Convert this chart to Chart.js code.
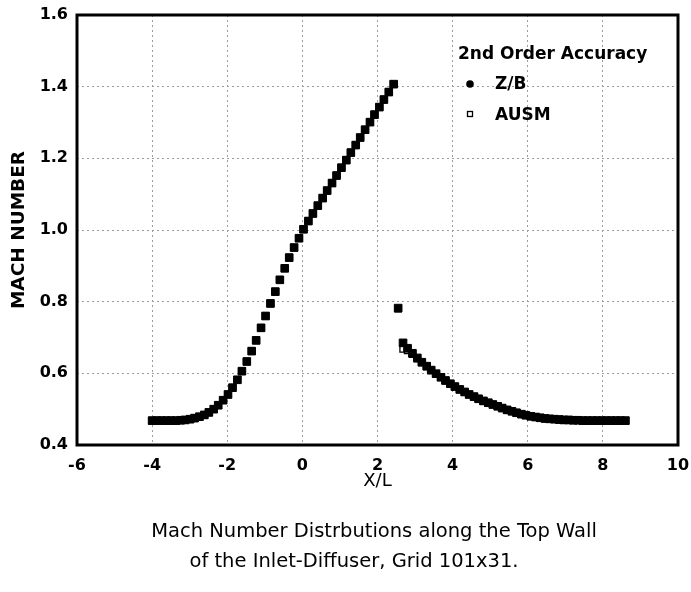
<!DOCTYPE html>
<html>
<head>
<meta charset="utf-8">
<script src="https://cdn.jsdelivr.net/npm/chart.js@4/dist/chart.umd.min.js"></script>
<style>
  body { margin: 0; background: #fff; }
  #wrap { width: 691px; height: 592px; }
</style>
</head>
<body>
<div id="wrap"><canvas id="chart"></canvas></div>
<script>
// X/L positions of the wall grid points
const xl = [
  -4.00, -3.87, -3.75, -3.62, -3.50, -3.37, -3.24, -3.12, -2.99, -2.87,
  -2.74, -2.61, -2.49, -2.36, -2.24, -2.11, -1.98, -1.86, -1.73, -1.61,
  -1.48, -1.35, -1.23, -1.10, -0.98, -0.85, -0.72, -0.60, -0.47, -0.35,
  -0.22, -0.09, 0.03, 0.16, 0.28, 0.41, 0.54, 0.66, 0.79, 0.91,
  1.04, 1.17, 1.29, 1.42, 1.54, 1.67, 1.80, 1.92, 2.05, 2.17,
  2.30, 2.43, 2.55, 2.68, 2.80, 2.93, 3.06, 3.18, 3.31, 3.43,
  3.56, 3.69, 3.81, 3.94, 4.06, 4.19, 4.32, 4.44, 4.57, 4.69,
  4.82, 4.95, 5.07, 5.20, 5.32, 5.45, 5.58, 5.70, 5.83, 5.95,
  6.08, 6.21, 6.33, 6.46, 6.58, 6.71, 6.84, 6.96, 7.09, 7.21,
  7.34, 7.47, 7.59, 7.72, 7.84, 7.97, 8.10, 8.22, 8.35, 8.47,
  8.60
];

const machZB = [
  0.468, 0.468, 0.468, 0.468, 0.468, 0.468, 0.469, 0.470, 0.472, 0.475,
  0.479, 0.484, 0.491, 0.500, 0.511, 0.525, 0.541, 0.560, 0.582, 0.606,
  0.633, 0.662, 0.692, 0.727, 0.760, 0.795, 0.828, 0.861, 0.893, 0.923,
  0.951, 0.977, 1.002, 1.025, 1.046, 1.068, 1.089, 1.110, 1.131, 1.152,
  1.174, 1.195, 1.216, 1.237, 1.258, 1.280, 1.301, 1.322, 1.343, 1.364,
  1.385, 1.407, 0.782, 0.685, 0.670, 0.656, 0.643, 0.631, 0.620, 0.609,
  0.599, 0.589, 0.580, 0.571, 0.563, 0.555, 0.548, 0.541, 0.535, 0.529,
  0.523, 0.518, 0.513, 0.508, 0.503, 0.498, 0.494, 0.490, 0.486, 0.483,
  0.480, 0.478, 0.476, 0.474, 0.473, 0.472, 0.471, 0.470, 0.470, 0.469,
  0.469, 0.468, 0.468, 0.468, 0.468, 0.468, 0.468, 0.468, 0.468, 0.468,
  0.468
];

const machAUSM = [
  0.468, 0.468, 0.468, 0.468, 0.468, 0.468, 0.469, 0.470, 0.472, 0.475,
  0.479, 0.484, 0.491, 0.500, 0.511, 0.525, 0.541, 0.560, 0.582, 0.606,
  0.633, 0.662, 0.692, 0.727, 0.760, 0.795, 0.828, 0.861, 0.893, 0.923,
  0.951, 0.977, 1.002, 1.025, 1.046, 1.068, 1.089, 1.110, 1.131, 1.152,
  1.174, 1.195, 1.216, 1.237, 1.258, 1.280, 1.301, 1.322, 1.343, 1.364,
  1.385, 1.407, 0.780, 0.668, 0.664, 0.653, 0.641, 0.630, 0.619, 0.608,
  0.598, 0.589, 0.580, 0.571, 0.563, 0.555, 0.548, 0.541, 0.535, 0.529,
  0.523, 0.518, 0.513, 0.508, 0.503, 0.498, 0.494, 0.490, 0.486, 0.483,
  0.480, 0.478, 0.476, 0.474, 0.473, 0.472, 0.471, 0.470, 0.470, 0.469,
  0.469, 0.468, 0.468, 0.468, 0.468, 0.468, 0.468, 0.468, 0.468, 0.468,
  0.468
];

const seriesNames = ['Z/B', 'AUSM'];
const legendTitle = '2nd Order Accuracy';
const xTicks = [-6, -4, -2, 0, 2, 4, 6, 8, 10];
const yTicks = [0.4, 0.6, 0.8, 1.0, 1.2, 1.4, 1.6];
const caption = [
  'Mach Number Distrbutions along the Top Wall',
  'of the Inlet-Diffuser, Grid 101x31.'
];

const FONT = '"DejaVu Sans", sans-serif';

function toPoints(ys) {
  return xl.map((x, i) => ({ x: x, y: ys[i] }));
}

// frame round the plot, legend inside it, caption below
const decorations = {
  id: 'decorations',
  afterDraw(chart) {
    const { ctx, chartArea: a } = chart;
    ctx.save();
    ctx.strokeStyle = '#000';
    ctx.lineWidth = 3;
    ctx.strokeRect(a.left, a.top, a.right - a.left, a.bottom - a.top);

    ctx.fillStyle = '#000';
    ctx.textBaseline = 'middle';
    ctx.font = 'bold 17px ' + FONT;
    ctx.fillText(legendTitle, 458, 55);

    ctx.beginPath();
    ctx.arc(470, 84, 3.8, 0, Math.PI * 2);
    ctx.fill();
    ctx.fillText(chart.data.datasets[0].label, 495, 85);

    ctx.lineWidth = 1.3;
    ctx.strokeRect(467.5, 111.5, 5, 5);
    ctx.fillText(chart.data.datasets[1].label, 495, 116);

    ctx.font = '19.5px ' + FONT;
    ctx.textAlign = 'center';
    ctx.fillText(caption[0], 374, 532);
    ctx.fillText(caption[1], 354, 562);
    ctx.restore();
  }
};

new Chart(document.getElementById('chart'), {
  type: 'scatter',
  data: {
    datasets: [
      {
        label: seriesNames[0],
        data: toPoints(machZB),
        pointStyle: 'rect',
        pointRadius: 5.4,
        backgroundColor: '#000',
        borderColor: '#000',
        borderWidth: 1
      },
      {
        label: seriesNames[1],
        data: toPoints(machAUSM),
        pointStyle: 'rect',
        pointRadius: 4.4,
        backgroundColor: '#fff',
        borderColor: '#000',
        borderWidth: 1.3
      }
    ]
  },
  options: {
    responsive: true,
    maintainAspectRatio: false,
    animation: false,
    layout: { padding: { left: 0, right: 13, top: 15, bottom: 100 } },
    plugins: {
      legend: { display: false },
      tooltip: { enabled: false }
    },
    scales: {
      x: {
        type: 'linear',
        min: -6,
        max: 10,
        afterFit: (s) => { s.height = 47; s.paddingLeft = 0; s.paddingRight = 0; },
        afterBuildTicks: (s) => { s.ticks = xTicks.map(v => ({ value: v })); },
        ticks: {
          color: '#000',
          padding: 11,
          font: { family: FONT, size: 16, weight: 'bold' },
          callback: (v) => String(v)
        },
        grid: { color: '#9c9c9c', lineWidth: 1, drawTicks: false },
        border: { display: false, dash: [2, 3] },
        title: {
          display: true,
          text: 'X/L',
          color: '#000',
          padding: 0,
          font: { family: FONT, size: 18 }
        }
      },
      y: {
        type: 'linear',
        min: 0.4,
        max: 1.6,
        afterFit: (s) => { s.width = 77; s.paddingTop = 0; s.paddingBottom = 0; },
        afterBuildTicks: (s) => { s.ticks = yTicks.map(v => ({ value: v })); },
        ticks: {
          color: '#000',
          padding: 9,
          font: { family: FONT, size: 16, weight: 'bold' },
          callback: (v) => v.toFixed(1)
        },
        grid: { color: '#9c9c9c', lineWidth: 1, drawTicks: false },
        border: { display: false, dash: [2, 3] },
        title: {
          display: true,
          text: 'MACH NUMBER',
          color: '#000',
          padding: 8,
          font: { family: FONT, size: 18.5, weight: 'bold' }
        }
      }
    }
  },
  plugins: [decorations]
});
</script>
</body>
</html>
